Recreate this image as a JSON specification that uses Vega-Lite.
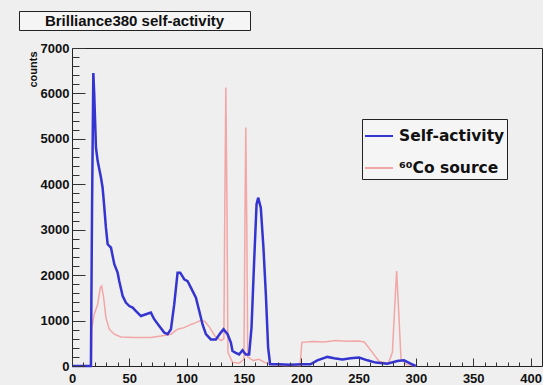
{
  "$schema": "https://vega.github.io/schema/vega-lite/v6.json",
  "background": "#efefef",
  "padding": {"left": 18, "top": 10, "right": 0, "bottom": 0},
  "spacing": 10,
  "config": {"font": "Liberation Sans", "view": {"stroke": "#222"}},
  "datasets": {
    "spectra": [
      {"x": 0, "counts": 0, "series": "Self-activity"},
      {"x": 10, "counts": 0, "series": "Self-activity"},
      {"x": 16.5, "counts": 0, "series": "Self-activity"},
      {"x": 17.5, "counts": 3500, "series": "Self-activity"},
      {"x": 18.6, "counts": 6450, "series": "Self-activity"},
      {"x": 19.4, "counts": 5980, "series": "Self-activity"},
      {"x": 20.9, "counts": 4805, "series": "Self-activity"},
      {"x": 22.4, "counts": 4510, "series": "Self-activity"},
      {"x": 25.3, "counts": 4145, "series": "Self-activity"},
      {"x": 26.7, "counts": 3925, "series": "Self-activity"},
      {"x": 28.2, "counts": 3485, "series": "Self-activity"},
      {"x": 29.6, "counts": 3045, "series": "Self-activity"},
      {"x": 31.1, "counts": 2680, "series": "Self-activity"},
      {"x": 34, "counts": 2605, "series": "Self-activity"},
      {"x": 36.9, "counts": 2240, "series": "Self-activity"},
      {"x": 39.8, "counts": 2055, "series": "Self-activity"},
      {"x": 41.2, "counts": 1870, "series": "Self-activity"},
      {"x": 44.2, "counts": 1540, "series": "Self-activity"},
      {"x": 47, "counts": 1395, "series": "Self-activity"},
      {"x": 50, "counts": 1320, "series": "Self-activity"},
      {"x": 52.9, "counts": 1285, "series": "Self-activity"},
      {"x": 55.8, "counts": 1210, "series": "Self-activity"},
      {"x": 60.1, "counts": 1100, "series": "Self-activity"},
      {"x": 64.5, "counts": 1140, "series": "Self-activity"},
      {"x": 68.8, "counts": 1175, "series": "Self-activity"},
      {"x": 71.7, "counts": 1030, "series": "Self-activity"},
      {"x": 76.1, "counts": 880, "series": "Self-activity"},
      {"x": 80.4, "counts": 735, "series": "Self-activity"},
      {"x": 83.4, "counts": 700, "series": "Self-activity"},
      {"x": 86.3, "counts": 810, "series": "Self-activity"},
      {"x": 89.2, "counts": 1360, "series": "Self-activity"},
      {"x": 92.1, "counts": 2055, "series": "Self-activity"},
      {"x": 94.4, "counts": 2055, "series": "Self-activity"},
      {"x": 97.9, "counts": 1910, "series": "Self-activity"},
      {"x": 100.8, "counts": 1870, "series": "Self-activity"},
      {"x": 103.7, "counts": 1725, "series": "Self-activity"},
      {"x": 108.1, "counts": 1505, "series": "Self-activity"},
      {"x": 111, "counts": 1210, "series": "Self-activity"},
      {"x": 113.9, "counts": 915, "series": "Self-activity"},
      {"x": 116.8, "counts": 700, "series": "Self-activity"},
      {"x": 121.1, "counts": 585, "series": "Self-activity"},
      {"x": 125.5, "counts": 585, "series": "Self-activity"},
      {"x": 129.8, "counts": 735, "series": "Self-activity"},
      {"x": 132.2, "counts": 810, "series": "Self-activity"},
      {"x": 135.7, "counts": 700, "series": "Self-activity"},
      {"x": 138.6, "counts": 515, "series": "Self-activity"},
      {"x": 140, "counts": 330, "series": "Self-activity"},
      {"x": 142.9, "counts": 290, "series": "Self-activity"},
      {"x": 145.8, "counts": 255, "series": "Self-activity"},
      {"x": 148.7, "counts": 345, "series": "Self-activity"},
      {"x": 151.6, "counts": 255, "series": "Self-activity"},
      {"x": 154.5, "counts": 255, "series": "Self-activity"},
      {"x": 156.6, "counts": 845, "series": "Self-activity"},
      {"x": 158.9, "counts": 2310, "series": "Self-activity"},
      {"x": 161, "counts": 3560, "series": "Self-activity"},
      {"x": 162.4, "counts": 3705, "series": "Self-activity"},
      {"x": 164.7, "counts": 3485, "series": "Self-activity"},
      {"x": 167, "counts": 2605, "series": "Self-activity"},
      {"x": 169.1, "counts": 1580, "series": "Self-activity"},
      {"x": 171.1, "counts": 405, "series": "Self-activity"},
      {"x": 172.8, "counts": 40, "series": "Self-activity"},
      {"x": 180, "counts": 40, "series": "Self-activity"},
      {"x": 190, "counts": 30, "series": "Self-activity"},
      {"x": 200, "counts": 40, "series": "Self-activity"},
      {"x": 208, "counts": 37, "series": "Self-activity"},
      {"x": 214, "counts": 125, "series": "Self-activity"},
      {"x": 222.8, "counts": 200, "series": "Self-activity"},
      {"x": 228.6, "counts": 170, "series": "Self-activity"},
      {"x": 235.9, "counts": 145, "series": "Self-activity"},
      {"x": 243, "counts": 170, "series": "Self-activity"},
      {"x": 250.4, "counts": 185, "series": "Self-activity"},
      {"x": 257.7, "counts": 125, "series": "Self-activity"},
      {"x": 265, "counts": 75, "series": "Self-activity"},
      {"x": 275, "counts": 50, "series": "Self-activity"},
      {"x": 283.8, "counts": 110, "series": "Self-activity"},
      {"x": 289.6, "counts": 125, "series": "Self-activity"},
      {"x": 295.4, "counts": 50, "series": "Self-activity"},
      {"x": 299.8, "counts": 0, "series": "Self-activity"},

      {"x": 0, "counts": 0, "series": "⁶⁰Co source"},
      {"x": 17, "counts": 0, "series": "⁶⁰Co source"},
      {"x": 17.4, "counts": 845, "series": "⁶⁰Co source"},
      {"x": 19.4, "counts": 1140, "series": "⁶⁰Co source"},
      {"x": 22.4, "counts": 1360, "series": "⁶⁰Co source"},
      {"x": 24.7, "counts": 1725, "series": "⁶⁰Co source"},
      {"x": 25.9, "counts": 1760, "series": "⁶⁰Co source"},
      {"x": 27.6, "counts": 1505, "series": "⁶⁰Co source"},
      {"x": 29.6, "counts": 1065, "series": "⁶⁰Co source"},
      {"x": 32.5, "counts": 810, "series": "⁶⁰Co source"},
      {"x": 36.9, "counts": 700, "series": "⁶⁰Co source"},
      {"x": 42.7, "counts": 640, "series": "⁶⁰Co source"},
      {"x": 54.3, "counts": 625, "series": "⁶⁰Co source"},
      {"x": 68.8, "counts": 625, "series": "⁶⁰Co source"},
      {"x": 77.6, "counts": 660, "series": "⁶⁰Co source"},
      {"x": 86.3, "counts": 700, "series": "⁶⁰Co source"},
      {"x": 92.1, "counts": 810, "series": "⁶⁰Co source"},
      {"x": 97.9, "counts": 845, "series": "⁶⁰Co source"},
      {"x": 103.7, "counts": 915, "series": "⁶⁰Co source"},
      {"x": 108.1, "counts": 955, "series": "⁶⁰Co source"},
      {"x": 112, "counts": 1000, "series": "⁶⁰Co source"},
      {"x": 116, "counts": 980, "series": "⁶⁰Co source"},
      {"x": 120, "counts": 850, "series": "⁶⁰Co source"},
      {"x": 125, "counts": 650, "series": "⁶⁰Co source"},
      {"x": 130, "counts": 560, "series": "⁶⁰Co source"},
      {"x": 132.5, "counts": 600, "series": "⁶⁰Co source"},
      {"x": 133.3, "counts": 3500, "series": "⁶⁰Co source"},
      {"x": 134.2, "counts": 6130, "series": "⁶⁰Co source"},
      {"x": 135.2, "counts": 3500, "series": "⁶⁰Co source"},
      {"x": 136, "counts": 300, "series": "⁶⁰Co source"},
      {"x": 140, "counts": 80, "series": "⁶⁰Co source"},
      {"x": 146, "counts": 60, "series": "⁶⁰Co source"},
      {"x": 150, "counts": 150, "series": "⁶⁰Co source"},
      {"x": 150.8, "counts": 3000, "series": "⁶⁰Co source"},
      {"x": 151.6, "counts": 5250, "series": "⁶⁰Co source"},
      {"x": 152.5, "counts": 3000, "series": "⁶⁰Co source"},
      {"x": 153.3, "counts": 200, "series": "⁶⁰Co source"},
      {"x": 158, "counts": 120, "series": "⁶⁰Co source"},
      {"x": 163, "counts": 150, "series": "⁶⁰Co source"},
      {"x": 168, "counts": 80, "series": "⁶⁰Co source"},
      {"x": 175, "counts": 30, "series": "⁶⁰Co source"},
      {"x": 185, "counts": 10, "series": "⁶⁰Co source"},
      {"x": 199, "counts": 10, "series": "⁶⁰Co source"},
      {"x": 200.5, "counts": 520, "series": "⁶⁰Co source"},
      {"x": 210, "counts": 540, "series": "⁶⁰Co source"},
      {"x": 220, "counts": 530, "series": "⁶⁰Co source"},
      {"x": 230, "counts": 560, "series": "⁶⁰Co source"},
      {"x": 240, "counts": 545, "series": "⁶⁰Co source"},
      {"x": 250, "counts": 550, "series": "⁶⁰Co source"},
      {"x": 255, "counts": 530, "series": "⁶⁰Co source"},
      {"x": 262, "counts": 300, "series": "⁶⁰Co source"},
      {"x": 268, "counts": 100, "series": "⁶⁰Co source"},
      {"x": 276, "counts": 60, "series": "⁶⁰Co source"},
      {"x": 279.5, "counts": 300, "series": "⁶⁰Co source"},
      {"x": 281.5, "counts": 1300, "series": "⁶⁰Co source"},
      {"x": 283.2, "counts": 2090, "series": "⁶⁰Co source"},
      {"x": 285, "counts": 1200, "series": "⁶⁰Co source"},
      {"x": 287, "counts": 150, "series": "⁶⁰Co source"},
      {"x": 292, "counts": 30, "series": "⁶⁰Co source"},
      {"x": 300, "counts": 0, "series": "⁶⁰Co source"}
    ]
  },
  "vconcat": [
    {
      "width": 231,
      "height": 19,
      "view": {"stroke": "#222", "strokeWidth": 1, "fill": "#f5f5f5"},
      "data": {"values": [{"label": "Brilliance380 self-activity"}]},
      "mark": {"type": "text", "font": "Liberation Sans", "fontWeight": "bold", "fontSize": 15, "color": "#111", "baseline": "middle", "align": "center"},
      "encoding": {"text": {"field": "label", "type": "nominal"}}
    },
    {
      "spacing": 0,
      "resolve": {"legend": {"color": "independent"}},
      "hconcat": [
        {
          "width": 7,
          "height": 1,
          "view": {"stroke": null, "fill": null},
          "data": {"values": [{"gap": ""}]},
          "mark": {"type": "text"},
          "encoding": {"text": {"field": "gap", "type": "nominal"}}
        },
        {
          "width": 470,
          "height": 318,
          "view": {"stroke": "#222", "strokeWidth": 1, "fill": null},
          "data": {"name": "spectra"},
          "encoding": {
            "x": {
              "field": "x",
              "type": "quantitative",
              "scale": {"domain": [0, 410], "nice": false, "zero": false},
              "axis": {
                "title": null,
                "grid": false,
                "zindex": 1,
                "domain": false,
                "offset": -8,
                "values": [0,10,20,30,40,50,60,70,80,90,100,110,120,130,140,150,160,170,180,190,200,210,220,230,240,250,260,270,280,290,300,310,320,330,340,350,360,370,380,390,400],
                "labelExpr": "datum.value % 50 === 0 ? datum.label : ''",
                "labelOverlap": false,
                "labelFlush": false,
                "ticks": true,
                "tickSize": 8,
                "tickWidth": 1,
                "tickDash": {"condition": {"test": "datum.value % 50 === 0", "value": [8, 0]}, "value": [0, 4, 4, 100]},
                "tickColor": "#333",
                "labelFont": "Liberation Sans",
                "labelFontWeight": "bold",
                "labelFontSize": 13,
                "labelColor": "#111",
                "labelPadding": 6
              }
            },
            "y": {
              "field": "counts",
              "type": "quantitative",
              "scale": {"domain": [0, 7000], "nice": false},
              "axis": {
                "title": "counts",
                "grid": false,
                "zindex": 1,
                "domain": false,
                "offset": -13,
                "values": [0,200,400,600,800,1000,1200,1400,1600,1800,2000,2200,2400,2600,2800,3000,3200,3400,3600,3800,4000,4200,4400,4600,4800,5000,5200,5400,5600,5800,6000,6200,6400,6600,6800,7000],
                "format": "d",
                "labelExpr": "datum.value % 1000 === 0 ? datum.label : ''",
                "labelOverlap": false,
                "labelFlush": false,
                "ticks": true,
                "tickSize": 13,
                "tickWidth": 1,
                "tickDash": {"condition": {"test": "datum.value % 1000 === 0", "value": [13, 0]}, "value": [0, 6, 7, 100]},
                "tickColor": "#333",
                "labelFont": "Liberation Sans",
                "labelFontWeight": "bold",
                "labelFontSize": 13,
                "labelColor": "#111",
                "labelPadding": 3,
                "minExtent": 0,
                "titleFont": "Liberation Sans",
                "titleFontWeight": "bold",
                "titleFontSize": 11,
                "titleColor": "#111",
                "titleAngle": -90,
                "titleAlign": "right",
                "titleBaseline": "middle",
                "titleX": -51.5,
                "titleY": 3
              }
            },
            "color": {
              "field": "series",
              "type": "nominal",
              "scale": {"domain": ["Self-activity", "⁶⁰Co source"], "range": ["#3434d0", "#f2a6a6"]},
              "legend": {
                "title": null,
                "orient": "none",
                "legendX": 290,
                "legendY": 71,
                "fillColor": "#f5f5f5",
                "strokeColor": "#222",
                "padding": 2,
                "symbolType": "stroke",
                "symbolSize": 784,
                "symbolStrokeWidth": 2,
                "labelFont": "DejaVu Sans",
                "labelFontWeight": "bold",
                "labelFontSize": 15.5,
                "labelColor": "#111",
                "labelOffset": 5,
                "rowPadding": 8
              }
            }
          },
          "layer": [
            {
              "transform": [{"filter": "datum.series !== 'Self-activity'"}],
              "mark": {"type": "line", "strokeWidth": 1.5}
            },
            {
              "transform": [{"filter": "datum.series === 'Self-activity'"}],
              "mark": {"type": "line", "strokeWidth": 2.5}
            }
          ]
        }
      ]
    }
  ]
}
